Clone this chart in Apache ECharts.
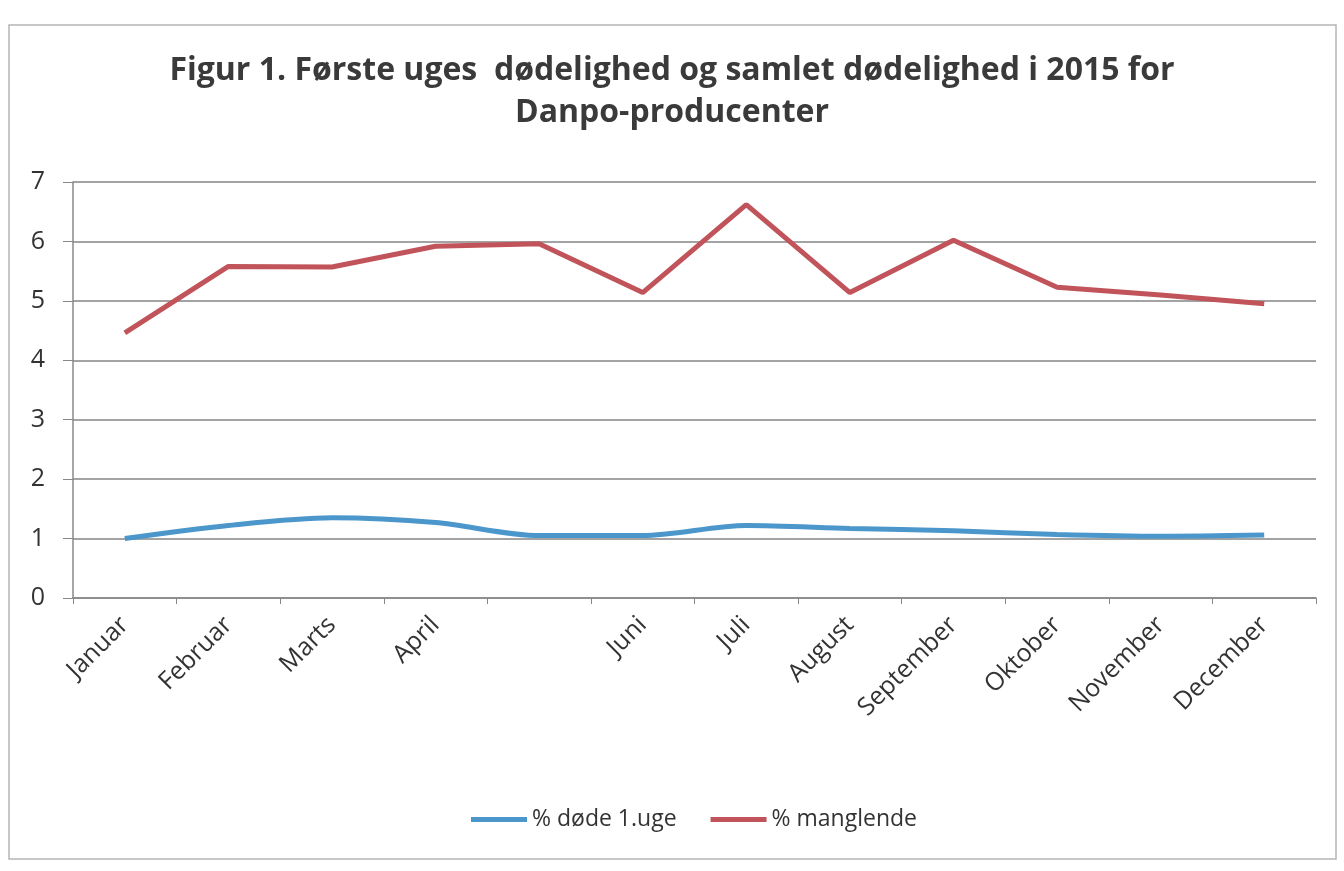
<!DOCTYPE html>
<html lang="da">
<head>
    <meta charset="UTF-8">
    <title>Figur 1</title>
    <script src="https://cdn.jsdelivr.net/npm/echarts@6/dist/echarts.min.js"></script>
    <style>
        html, body { margin: 0; padding: 0; background: #fff; }
        #main { width: 1344px; height: 871px; }
    </style>
</head>
<body>
<div id="main"></div>
<script>
    // data
    var maaneder = ['Januar', 'Februar', 'Marts', 'April', '', 'Juni', 'Juli',
        'August', 'September', 'Oktober', 'November', 'December'];
    var dodeForsteUge = [1.00, 1.22, 1.35, 1.27, 1.05, 1.05, 1.22, 1.17, 1.13, 1.07, 1.04, 1.06];
    var manglende = [4.46, 5.58, 5.57, 5.92, 5.96, 5.14, 6.62, 5.14, 6.02, 5.23, 5.10, 4.95];
    var yTicks = [0, 1, 2, 3, 4, 5, 6, 7];

    var myChart = echarts.init(document.getElementById('main'));
    var font = '"Open Sans", "Noto Sans", sans-serif';

    var option = {
        backgroundColor: '#fff',
        title: {
            text: 'Figur 1. Første uges  dødelighed og samlet dødelighed i 2015 for\nDanpo-producenter',
            left: 'center',
            top: 45,
            textStyle: {
                fontFamily: font,
                fontWeight: 'bold',
                fontSize: 32,
                lineHeight: 42,
                color: '#3a3a3a'
            }
        },
        graphic: [{
            type: 'rect',
            shape: { x: 9, y: 25, width: 1327, height: 834 },
            style: { fill: 'none', stroke: '#b5b5b5', lineWidth: 1.5 }
        }],
        legend: {
            bottom: 35,
            left: 466,
            itemWidth: 56,
            itemHeight: 5,
            itemGap: 34,
            icon: 'rect',
            textStyle: { fontFamily: font, fontSize: 23, color: '#333' },
            data: ['% døde 1.uge', '% manglende']
        },
        grid: { left: 73, right: 28, top: 182, bottom: 273 },
        xAxis: {
            type: 'category',
            data: maaneder,
            boundaryGap: true,
            axisLine: { lineStyle: { color: '#888', width: 1.5 } },
            axisTick: { show: true, length: 6, lineStyle: { color: '#888' } },
            axisLabel: {
                rotate: 45,
                interval: 0,
                margin: 23,
                fontFamily: font,
                fontSize: 25,
                color: '#333'
            }
        },
        yAxis: {
            type: 'value',
            min: yTicks[0],
            max: yTicks[yTicks.length - 1],
            interval: 1,
            axisLine: { show: true, lineStyle: { color: '#888', width: 1.5 } },
            axisTick: { show: true, length: 10, lineStyle: { color: '#888' } },
            axisLabel: { fontFamily: font, fontSize: 25, color: '#333', margin: 28 },
            splitLine: { lineStyle: { color: '#858585', width: 1.6 } }
        },
        series: [{
            name: '% døde 1.uge',
            type: 'line',
            data: dodeForsteUge,
            smooth: 0.3,
            symbol: 'none',
            lineStyle: { color: '#4b97cc', width: 5 },
            itemStyle: { color: '#4b97cc' }
        }, {
            name: '% manglende',
            type: 'line',
            data: manglende,
            symbol: 'none',
            lineStyle: { color: '#c0545a', width: 5 },
            itemStyle: { color: '#c0545a' }
        }]
    };
    myChart.setOption(option);
</script>
</body>
</html>
